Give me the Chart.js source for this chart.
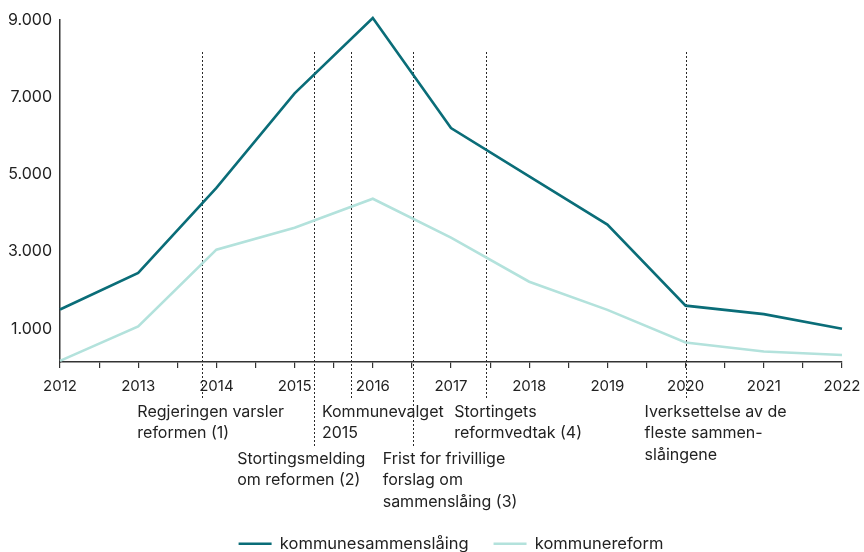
<!DOCTYPE html>
<html>
<head>
<meta charset="utf-8">
<script src="https://cdn.jsdelivr.net/npm/chart.js@4.4.1/dist/chart.umd.min.js"></script>
<style>
  html, body { margin: 0; padding: 0; background: #ffffff; }
  #wrap { width: 864px; height: 552px; position: relative; }
  canvas { display: block; }
</style>
</head>
<body>
<div id="wrap"><canvas id="chart" width="864" height="552"></canvas></div>
<script>
// Years on the x axis
const years = [2012, 2013, 2014, 2015, 2016, 2017, 2018, 2019, 2020, 2021, 2022];
// Series values
const kommunesammenslaaing = [1500, 2450, 4650, 7100, 9050, 6200, 4950, 3700, 1600, 1380, 1000];
const kommunereform = [170, 1060, 3050, 3620, 4370, 3360, 2220, 1490, 645, 410, 320];
// Value axis ticks
const yTicks = [1000, 3000, 5000, 7000, 9000];
// Milestones in the reform process (fractional year) and their captions
const eventDates = [2013.82, 2015.25, 2015.72, 2016.51, 2017.45, 2020.0];
const eventLabels = [
  ["Regjeringen varsler", "reformen (1)"],
  ["Stortingsmelding", "om reformen (2)"],
  ["Kommunevalget", "2015"],
  ["Frist for frivillige", "forslag om", "sammenslåing (3)"],
  ["Stortingets", "reformvedtak (4)"],
  ["Iverksettelse av de", "fleste sammen-", "slåingene"]
];
// Caption placement: horizontal offset from the marker, and row below the axis
const eventLayout = [
  { dx: -65, row: 0 },
  { dx: -77, row: 1 },
  { dx: -29, row: 0 },
  { dx: -30, row: 1 },
  { dx: -32, row: 0 },
  { dx: -41, row: 0 }
];

const FONT = "Inter, 'Noto Sans', sans-serif";
const TEXT = '#222222';
const DARK = '#0a6d78';
const LIGHT = '#b3e2dc';

const LEGEND_FONT = 16.5;
const LEGEND_PAD = 25;
const PAD_BOTTOM = -10;
const PLOT_BOTTOM = 362;

Chart.defaults.font.family = FONT;
Chart.defaults.color = TEXT;

const fmt = v => String(v).replace(/\B(?=(\d{3})+(?!\d))/g, '.');

const milestones = {
  id: 'milestones',
  beforeDatasetsDraw(chart) {
    const { ctx, chartArea } = chart;
    const xs = chart.scales.x;
    ctx.save();
    ctx.strokeStyle = '#2a2a2a';
    ctx.lineWidth = 1;
    ctx.setLineDash([2, 2]);
    eventDates.forEach((d, i) => {
      const x = Math.round(xs.getPixelForValue(d)) + 0.5;
      const bottom = chartArea.bottom + (eventLayout[i].row === 0 ? 36 : 85);
      ctx.beginPath();
      ctx.moveTo(x, chartArea.top + 32);
      ctx.lineTo(x, bottom);
      ctx.stroke();
    });
    ctx.restore();
  },
  afterDraw(chart) {
    const { ctx, chartArea } = chart;
    const xs = chart.scales.x;
    ctx.save();
    ctx.fillStyle = TEXT;
    ctx.font = '16px ' + FONT;
    ctx.textAlign = 'left';
    ctx.textBaseline = 'middle';
    eventDates.forEach((d, i) => {
      const x = xs.getPixelForValue(d) + eventLayout[i].dx;
      const y0 = chartArea.bottom + (eventLayout[i].row === 0 ? 50 : 97);
      eventLabels[i].forEach((line, j) => {
        ctx.fillText(line, x, y0 + j * 21.5);
      });
    });
    ctx.restore();
  }
};

new Chart(document.getElementById('chart'), {
  type: 'line',
  data: {
    datasets: [
      {
        label: 'kommunesammenslåing',
        data: years.map((y, i) => ({ x: y, y: kommunesammenslaaing[i] })),
        borderColor: DARK,
        backgroundColor: DARK,
        borderWidth: 2.6,
        pointRadius: 0,
        tension: 0,
        clip: false
      },
      {
        label: 'kommunereform',
        data: years.map((y, i) => ({ x: y, y: kommunereform[i] })),
        borderColor: LIGHT,
        backgroundColor: LIGHT,
        borderWidth: 2.6,
        pointRadius: 0,
        tension: 0,
        clip: false
      }
    ]
  },
  options: {
    responsive: false,
    animation: false,
    devicePixelRatio: 1,
    layout: { padding: { top: 20, right: 22, left: 0, bottom: PAD_BOTTOM } },
    plugins: {
      legend: {
        position: 'bottom',
        fullSize: false,
        labels: {
          usePointStyle: true,
          pointStyle: 'line',
          pointStyleWidth: 33,
          padding: LEGEND_PAD,
          color: TEXT,
          font: { size: LEGEND_FONT, family: FONT }
        }
      },
      tooltip: { enabled: false }
    },
    scales: {
      x: {
        type: 'linear',
        min: 2012,
        max: 2022,
        afterBuildTicks(scale) {
          const t = [];
          for (let v = 2012; v <= 2022.001; v += 0.5) t.push({ value: v });
          scale.ticks = t;
        },
        ticks: {
          autoSkip: false,
          maxRotation: 0,
          padding: 9,
          color: TEXT,
          font: { size: 15, family: FONT },
          callback: v => Number.isInteger(v) ? String(v) : ''
        },
        grid: { drawOnChartArea: false, drawTicks: true, tickLength: 6, tickColor: '#333333', lineWidth: 1.2 },
        border: { display: true, color: '#333333', width: 1.5 },
        afterFit(scale) {
          const legendH = LEGEND_FONT + LEGEND_PAD + 10;
          scale.height = scale.chart.height - PAD_BOTTOM - PLOT_BOTTOM - legendH;
          scale.paddingLeft = 0;
          scale.paddingRight = 0;
        }
      },
      y: {
        min: 140,
        max: 9000,
        afterBuildTicks(scale) {
          scale.ticks = yTicks.map(v => ({ value: v }));
        },
        ticks: {
          autoSkip: false,
          padding: 8,
          color: TEXT,
          font: { size: 16, family: FONT },
          callback: v => fmt(v)
        },
        grid: { drawOnChartArea: false, drawTicks: false },
        border: { display: true, color: '#333333', width: 1.5 },
        afterFit(scale) { scale.width = 60; }
      }
    }
  },
  plugins: [milestones]
});
</script>
</body>
</html>
